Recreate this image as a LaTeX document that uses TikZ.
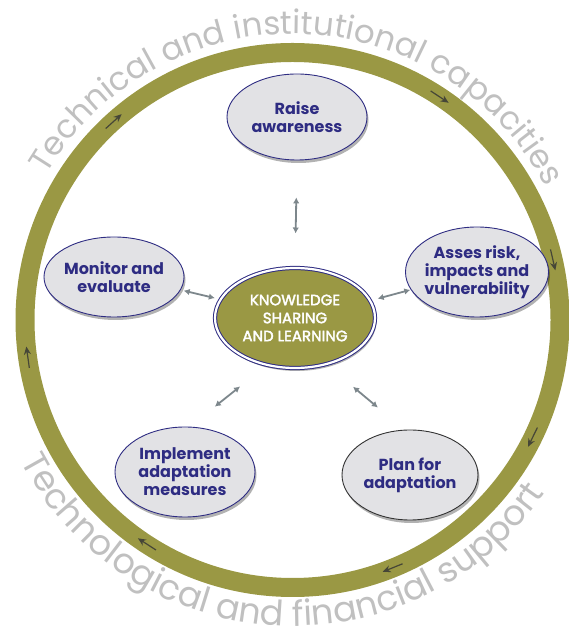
\documentclass[tikz,border=0pt]{standalone}
\usepackage{fontspec}
\setmainfont{Poppins}
\newfontfamily\medfont[FakeBold=2.5]{Poppins}
\usetikzlibrary{shapes.geometric,shadows,decorations.text,arrows.meta,calc}
\definecolor{olivering}{RGB}{154,152,68}
\definecolor{navyline}{RGB}{46,44,130}
\definecolor{lightfill}{RGB}{226,226,229}
\definecolor{biarrgray}{RGB}{125,135,140}
\definecolor{ringarrcol}{RGB}{70,70,55}
\definecolor{arctextcol}{RGB}{192,192,192}
\newcommand{\arcsztop}{\fontsize{32.5}{32.5}\selectfont}
\newcommand{\arcszbot}{\fontsize{35}{35}\selectfont}
\begin{document}
\begin{tikzpicture}[x=1pt,y=1pt,
  stage/.style={ellipse, draw=navyline, line width=0.9pt, fill=lightfill, inner sep=0pt,
    drop shadow={shadow xshift=1.5pt, shadow yshift=-3pt, opacity=0.3, fill=black}},
  stagetext/.style={font=\bfseries\fontsize{16}{18}\selectfont, text=navyline, align=center},
  centertext/.style={font=\medfont\fontsize{15}{18}\selectfont, text=white, align=center},
  ring/.style={draw=olivering, line width=19pt},
  ringarr/.style={draw=ringarrcol, line width=1.2pt, -{Stealth[length=8pt,width=7pt]}},
  biarr/.style={draw=biarrgray, line width=1.8pt, {Latex[length=6pt,width=6.5pt]}-{Latex[length=6pt,width=6.5pt]}}
]
\useasboundingbox (0,0) rectangle (568,637);
\coordinate (C) at (292.5,317);

% ring
\draw[ring] (C) circle[radius=267.5];
\begin{scope}[shift={(C)}]
  \foreach \a in {132,56.6,13,-26,-68,-123,188}
    \draw[ringarr] (\a+2.3:267.5) -- (\a-2.3:267.5);
  \path[decorate, decoration={text along path, text align=center, text color=arctextcol,
      text={|\arcsztop|Technical and institutional capacities}}]
    (178:286) arc[start angle=178, end angle=-1, radius=286];
  \path[decorate, decoration={text along path, text align=center, text color=arctextcol,
      text={|\arcszbot|Technological and financial support}}]
    (180:306) arc[start angle=180, end angle=353, radius=306];
\end{scope}

% stages
\node[stage, minimum width=140pt, minimum height=86pt,
  label={[stagetext]center:Raise\\awareness}] (raise) at (297,520) {};
\node[stage, minimum width=140pt, minimum height=80pt,
  label={[stagetext]center:Monitor and\\evaluate}] (monitor) at (114,360) {};
\node[stage, minimum width=143pt, minimum height=90pt,
  label={[stagetext]center:Asses risk,\\impacts and\\vulnerability}] (asses) at (477,365) {};
\node[stage, minimum width=140pt, minimum height=90pt,
  label={[stagetext]center:Implement\\adaptation\\measures}] (impl) at (185,165) {};
\node[stage, draw=black!80, minimum width=136pt, minimum height=90pt,
  label={[stagetext]center:Plan for\\adaptation}] (plan) at (410,162) {};

% centre
\node[ellipse, fill=olivering, draw=navyline, double=white, double distance=2.2pt, line width=1pt,
  minimum width=160pt, minimum height=100pt, inner sep=0pt,
  drop shadow={shadow xshift=1.5pt, shadow yshift=-3pt, opacity=0.3, fill=black},
  label={[centertext]center:KNOWLEDGE\\SHARING\\AND LEARNING}] (ksl) at (295,319) {};

% connectors
\draw[biarr, shorten <=37pt, shorten >=34pt] (raise.south) -- (ksl.north);
\draw[biarr, shorten <=3pt, shorten >=5.5pt] (monitor.-11) -- (ksl.166);
\draw[biarr, shorten <=7.4pt, shorten >=0.5pt] (ksl.13) -- (asses.195);
\draw[biarr, shorten <=32pt, shorten >=34pt] (impl.84) -- (ksl.239);
\draw[biarr, shorten <=34.7pt, shorten >=34.6pt] (ksl.-56) -- (plan.97);
\end{tikzpicture}
\end{document}
